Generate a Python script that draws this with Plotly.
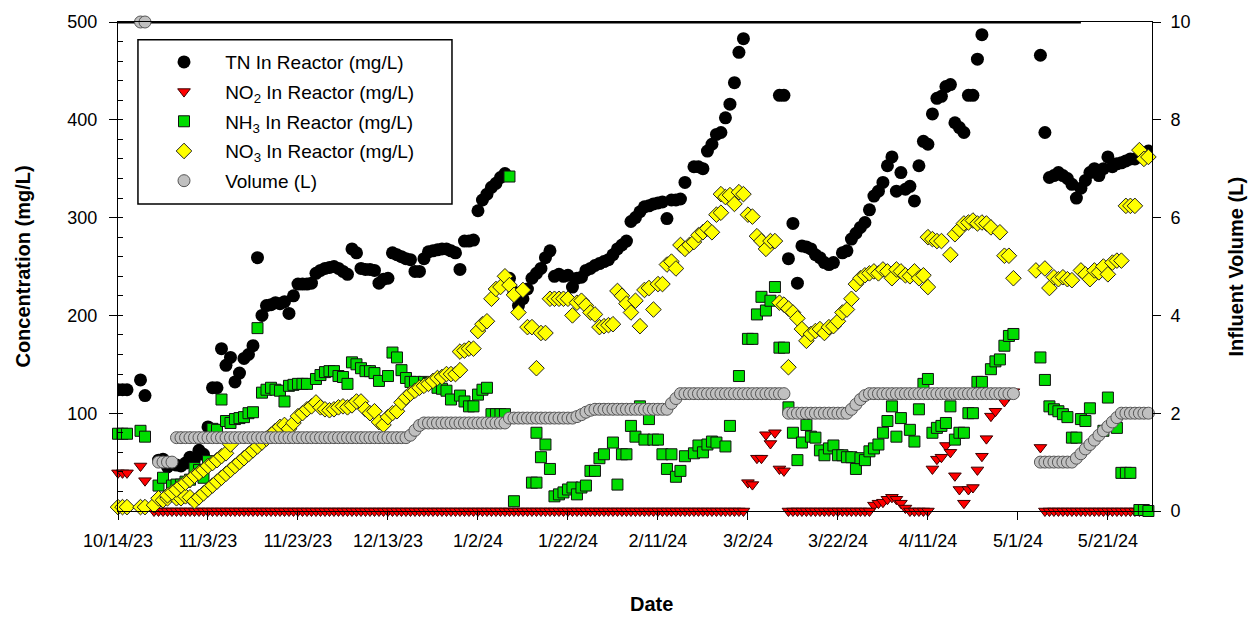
import plotly.graph_objects as go
import pandas as pd

START = pd.Timestamp("2023-10-14")
FONT = "Liberation Sans, Arial, sans-serif"

# ---------------- data (day offset from 10/14/23, value) ----------------
tn_day = [0, 1, 2, 5, 6, 9, 10, 11, 12, 13, 14, 15, 16, 17, 18, 19, 20, 21, 22, 23, 24, 25, 26, 27, 28,
          29, 30, 31, 32, 33, 34, 35, 36, 37, 38, 39, 40, 41, 42, 43, 44, 45, 46, 47, 48, 49, 50, 51,
          52, 53, 54, 55, 56, 57, 58, 59, 60, 61, 62, 63, 64, 65, 66, 67, 68, 69, 70, 71, 72, 73, 74,
          75, 76, 77, 78, 79, 80, 81, 82, 83, 84, 85, 86, 87, 88, 89, 90, 91, 92, 93, 94, 95, 96, 97,
          98, 99, 100, 101, 102, 103, 104, 105, 106, 107, 108, 109, 110, 111, 112, 113, 114, 115, 116,
          117, 118, 119, 120, 121, 122, 123, 124, 125, 126, 128, 129, 130, 131, 132, 133, 134, 135, 136,
          137, 138, 139, 147, 148, 149, 150, 151, 152, 153, 154, 155, 156, 157, 158, 159, 161, 162, 163,
          164, 165, 166, 167, 168, 169, 170, 171, 172, 173, 174, 175, 176, 177, 178, 179, 180, 181, 182,
          183, 184, 185, 186, 187, 188, 189, 190, 191, 192, 205, 206, 207, 208, 209, 210, 211, 212, 213,
          214, 215, 216, 217, 218, 219, 220, 221, 222, 223, 224, 225, 226, 227, 228, 229]
tn_val = [124, 124, 124, 134, 118, 52, 53, 45, 48, 47, 46, 49, 55, 53, 62, 58, 86, 126, 126, 166, 149, 157,
          132, 141, 156, 160, 169, 259, 200, 210, 211, 213, 212, 214, 202, 220, 232, 232, 232, 233, 243,
          246, 248, 249, 250, 248, 245, 242, 268, 264, 248, 247, 247, 246, 233, 237, 238, 264, 262, 260,
          258, 257, 245, 245, 258, 265, 266, 267, 268, 268, 266, 264, 247, 276, 276, 277, 307, 318, 324,
          331, 335, 341, 345, 238, 224, 210, 217, 227, 238, 243, 248, 259, 266, 240, 242, 240, 241, 229,
          238, 239, 246, 248, 251, 253, 255, 257, 262, 268, 272, 276, 296, 300, 306, 311, 312, 314, 315,
          316, 299, 318, 318, 319, 336, 352, 352, 350, 368, 375, 385, 387, 402, 416, 438, 469, 483, 425,
          425, 258, 294, 233, 271, 270, 268, 262, 259, 254, 252, 254, 264, 266, 278, 284, 290, 295, 308,
          322, 327, 336, 353, 362, 327, 346, 329, 332, 317, 353, 378, 375, 406, 422, 424, 434, 436, 397,
          392, 387, 425, 425, 462, 487, 466, 387, 341, 343, 346, 343, 340, 334, 320, 330, 338, 346, 350,
          343, 350, 362, 352, 355, 356, 358, 360, 360, 363, 362, 368]

no2_day = [0, 1, 2, 5, 6, 140, 141, 142, 143, 144, 145, 146, 147, 148, 168, 169, 170, 171, 172, 173, 174,
           175, 181, 182, 183, 184, 185, 186, 187, 188, 189, 190, 191, 192, 193, 194, 195, 197, 198, 199, 205]
no2_val = [39, 39, 39, 46, 31, 29, 27, 54, 54, 78, 69, 80, 43, 41, 6, 8, 9, 12, 14, 12, 8,
           3, 43, 53, 55, 67, 60, 36, 22, 8, 22, 24, 42, 56, 74, 97, 102, 112, 118, 122, 65]
# runs of days where NO2 reads 0 mg/L (first day, last day)
no2_zero_runs = [(8, 139), (149, 167), (176, 180), (206, 228)]

nh3_day = [0, 1, 2, 5, 6, 9, 10, 12, 13, 14, 15, 16, 17, 18, 19, 20, 21, 22, 23, 24, 25, 26, 27, 28, 29,
           30, 31, 32, 33, 34, 35, 36, 37, 38, 39, 40, 41, 42, 44, 45, 46, 47, 48, 49, 50, 51, 52, 53, 54,
           55, 56, 57, 58, 60, 61, 62, 63, 64, 65, 66, 68, 69, 70, 71, 72, 73, 74, 76, 77, 78, 79, 80, 81,
           82, 83, 84, 85, 86, 87, 88, 92, 93, 93, 94, 95, 96, 97, 98, 99, 100, 101, 102, 103, 104, 105,
           106, 107, 108, 110, 111, 112, 113, 114, 115, 116, 117, 118, 119, 120, 121, 122, 123, 124, 125,
           126, 128, 129, 130, 131, 132, 133, 135, 136, 138, 140, 141, 142, 143, 144, 145, 146, 147, 148,
           149, 150, 151, 152, 153, 154, 155, 156, 157, 158, 159, 160, 161, 162, 163, 164, 165, 166, 167,
           168, 169, 170, 171, 172, 173, 174, 176, 177, 178, 179, 180, 181, 182, 183, 184, 185, 186, 187,
           188, 189, 190, 191, 192, 194, 195, 196, 197, 198, 199, 205, 206, 207, 208, 209, 210, 211, 212,
           213, 214, 215, 216, 219, 220, 222, 223, 224, 225, 227, 228, 229]
nh3_val = [79, 79, 79, 82, 76, 26, 34, 26, 27, 27, 30, 32, 44, 42, 34, 51, 84, 83, 114, 92, 90, 94, 95, 96,
           100, 101, 187, 121, 124, 126, 124, 123, 112, 128, 129, 130, 130, 130, 135, 139, 142, 143, 143,
           138, 137, 130, 152, 150, 146, 143, 143, 141, 133, 138, 162, 157, 144, 136, 132, 132, 132, 131,
           131, 126, 125, 123, 114, 118, 112, 107, 107, 119, 124, 126, 99, 99, 99, 99, 342, 10, 29, 29,
           80, 55, 68, 43, 15, 17, 19, 22, 24, 17, 24, 26, 41, 41, 54, 58, 70, 27, 58, 58, 87, 76, 107,
           73, 94, 73, 73, 58, 43, 58, 35, 41, 56, 59, 67, 60, 68, 71, 70, 66, 87, 138, 176, 176, 201,
           219, 205, 215, 229, 167, 167, 106, 80, 52, 70, 88, 76, 75, 62, 57, 64, 67, 57, 57, 55, 55, 43,
           54, 52, 61, 64, 68, 80, 92, 107, 76, 95, 83, 71, 104, 130, 135, 80, 85, 87, 90, 107, 73, 80,
           80, 100, 100, 132, 132, 145, 153, 155, 169, 179, 181, 157, 134, 107, 104, 102, 99, 96, 75, 75,
           94, 92, 105, 82, 116, 85, 39, 39, 39, 1, 1, 0]

no3_day = [0, 1, 2, 5, 6, 8, 9, 10, 11, 12, 13, 14, 15, 16,
           11, 12, 13, 14, 15, 16, 17, 18, 19, 20, 21, 22, 23, 24, 25,
           17, 18, 19, 20, 21, 22, 23, 24, 25, 26, 27, 28, 29, 30, 31, 32, 33, 34, 35, 36, 37, 38, 39,
           40, 41, 42, 43, 44, 45, 46, 47, 48, 49, 50, 51, 52, 53, 54, 55, 56, 57, 58, 59, 60, 61, 62,
           63, 64, 65, 66, 67, 68, 69, 70, 71, 72, 73, 74, 75, 76, 76, 77, 78, 79, 80, 81, 82, 83, 84,
           85, 86, 87, 88, 89, 90, 91, 92, 93, 94, 95, 96, 97, 98, 99, 100, 101, 102, 103, 104, 105, 106,
           107, 108, 109, 110, 111, 112, 113, 114, 115, 116, 117, 118, 119, 120, 121, 122, 123, 124, 125,
           126, 127, 128, 129, 130, 131, 132, 133, 134, 134, 135, 136, 137, 138, 139, 140, 141, 142, 143,
           144, 145, 146, 147, 148, 149, 149, 150, 151, 152, 153, 154, 155, 156, 157, 158, 159, 160, 161,
           162, 163, 164, 165, 166, 167, 168, 169, 170, 171, 172, 173, 174, 175, 176, 177, 178, 179, 180,
           180, 181, 182, 183, 185, 186, 187, 188, 189, 190, 191, 192, 193, 194, 196, 197, 198, 199, 204,
           206, 207, 208, 209, 210, 211, 212, 214, 215, 216, 217, 218, 219, 220, 221, 222, 223, 224, 225,
           226, 227, 228, 229]
no3_val = [4, 4, 4, 4, 4, 6, 13, 11, 13, 17, 13, 13, 15, 14,
           16, 19, 22, 26, 29, 32, 36, 39, 42, 46, 49, 52, 56, 59, 68,
           10, 14, 18, 22, 26, 30, 34, 38, 42, 46, 50, 54, 58, 62, 66, 70, 74, 78, 82, 86, 88, 84, 90,
           97, 100, 104, 107, 111, 106, 104, 103, 104, 106, 107, 106, 108, 112, 112, 104, 100, 102, 91,
           88, 96, 100, 102, 111, 116, 120, 123, 126, 128, 130, 133, 136, 137, 140, 140, 140, 144, 163,
           164, 166, 166, 184, 191, 194, 217, 227, 229, 240, 231, 221, 203, 226, 188, 188, 146, 182, 182,
           217, 217, 217, 217, 217, 200, 213, 215, 210, 203, 201, 188, 189, 190, 191, 225, 220, 212, 203,
           215, 189, 226, 228, 206, 232, 232, 252, 255, 248, 272, 268, 272, 275, 282, 285, 289, 285, 303,
           305, 324, 321, 323, 314, 326, 324, 303, 301, 281, 276, 268, 276, 276, 213, 211, 207, 147, 203,
           197, 186, 174, 181, 184, 186, 182, 188, 189, 194, 203, 206, 217, 232, 238, 241, 243, 245, 243,
           247, 245, 238, 247, 245, 241, 240, 245, 238, 241, 229, 280, 278, 276, 276, 262, 283, 288, 294,
           295, 297, 294, 295, 294, 290, 285, 261, 261, 238, 246, 248, 228, 239, 237, 239, 237, 236, 246,
           242, 237, 246, 244, 250, 242, 254, 256, 256, 312, 312, 312, 369, 360, 362]

# influent volume (L): isolated readings and ramps
vol_day = [5, 6, 65, 66, 67, 102, 103, 104, 105, 123, 124, 163, 164, 165, 166,
           213, 214, 215, 216, 217, 218, 219, 220, 221, 222]
vol_val = [10, 10, 1.55, 1.65, 1.75, 1.93, 1.97, 2.02, 2.06, 2.2, 2.3, 2.08, 2.18, 2.28, 2.36,
           1.08, 1.17, 1.27, 1.36, 1.45, 1.55, 1.64, 1.73, 1.82, 1.91]
# runs of days with a steady reading (first day, last day, litres)
vol_runs = [(9, 12, 1.0), (13, 64, 1.5), (68, 86, 1.8), (87, 101, 1.9), (106, 122, 2.08),
            (125, 148, 2.4), (149, 162, 2.0), (167, 199, 2.4), (205, 212, 1.0), (223, 229, 2.0)]

# heavy black line drawn along the 500 mg/L frame
top_line_day = [0, 214]
top_line_val = [500, 500]

x_tick_step_days = 20
x_end_days = 229.8

# ---------------- assemble ----------------
def dates(days):
    return [START + pd.Timedelta(days=float(d)) for d in days]

no2_d = list(no2_day)
no2_v = list(no2_val)
for a, b in no2_zero_runs:
    for d in range(a, b + 1):
        no2_d.append(d)
        no2_v.append(0)

vol_d = list(vol_day)
vol_v = list(vol_val)
for a, b, v in vol_runs:
    for d in range(a, b + 1):
        vol_d.append(d)
        vol_v.append(v)
order = sorted(range(len(vol_d)), key=lambda i: vol_d[i])
vol_d = [vol_d[i] for i in order]
vol_v = [vol_v[i] for i in order]

NB = "\u00a0" * 4

fig = go.Figure()
fig.add_trace(go.Scatter(x=dates(top_line_day), y=top_line_val, mode="lines",
                         line=dict(color="black", width=3), showlegend=False,
                         cliponaxis=False, hoverinfo="skip"))
fig.add_trace(go.Scatter(x=dates(tn_day), y=tn_val, mode="markers", name=NB + "TN In Reactor (mg/L)",
                         legendgroup="a",
                         marker=dict(symbol="circle", size=13, color="black", line=dict(width=0))))
fig.add_trace(go.Scatter(x=dates(no2_d), y=no2_v, mode="markers",
                         name=NB + "NO<sub>2</sub> In Reactor (mg/L)", legendgroup="b", cliponaxis=False,
                         marker=dict(symbol="triangle-down", size=11, color="#ff0000",
                                     line=dict(color="#3a0000", width=1))))
fig.add_trace(go.Scatter(x=dates(nh3_day), y=nh3_val, mode="markers",
                         name=NB + "NH<sub>3</sub> In Reactor (mg/L)", legendgroup="c", cliponaxis=False,
                         marker=dict(symbol="square", size=11, color="#00dd00",
                                     line=dict(color="#111111", width=1))))
fig.add_trace(go.Scatter(x=dates(no3_day), y=no3_val, mode="markers",
                         name=NB + "NO<sub>3</sub> In Reactor (mg/L)", legendgroup="d", cliponaxis=False,
                         marker=dict(symbol="diamond", size=12, color="#ffff00",
                                     line=dict(color="#222222", width=1))))
fig.add_trace(go.Scatter(x=dates(vol_d), y=vol_v, mode="markers", name=NB + "Volume (L)",
                         legendgroup="e", yaxis="y2", cliponaxis=False,
                         marker=dict(symbol="circle", size=12, color="#c0c0c0",
                                     line=dict(color="#555555", width=1))))

axis_common = dict(showline=True, linecolor="black", linewidth=1, showgrid=False, zeroline=False,
                   ticks="outside", ticklen=8, tickwidth=1, tickcolor="black",
                   tickfont=dict(family=FONT, size=18, color="black"))

fig.update_layout(
    width=1251, height=619, autosize=False,
    margin=dict(l=118, r=99, t=16, b=108),
    paper_bgcolor="white", plot_bgcolor="white",
    font=dict(family=FONT, color="black"),
    xaxis=dict(type="date", range=[START, START + pd.Timedelta(days=x_end_days)],
               tick0=START, dtick=x_tick_step_days * 86400000, tickformat="%-m/%-d/%y",
               mirror=True, ticklabelstandoff=5, **axis_common),
    yaxis=dict(range=[0, 500], tickvals=[100, 200, 300, 400, 500], ticklabelstandoff=8,
               minor=dict(ticks="inside", ticklen=5, tick0=0, dtick=20, tickcolor="black", showgrid=False),
               **axis_common),
    yaxis2=dict(range=[0, 10], tickvals=[0, 2, 4, 6, 8, 10], overlaying="y", side="right",
                ticklabelstandoff=6, **axis_common),
    legend=dict(x=0.0445, y=0.957, xanchor="left", yanchor="top", bgcolor="rgba(0,0,0,0)",
                borderwidth=0, font=dict(family=FONT, size=19, color="black"), tracegroupgap=2,
                itemsizing="trace"),
    shapes=[dict(type="rect", xref="paper", yref="paper", x0=0.0193, x1=0.323, y0=0.628, y1=0.9636,
                 line=dict(color="black", width=1.5), fillcolor="rgba(0,0,0,0)", layer="above")],
    annotations=[
        dict(text="<b>Concentration (mg/L)</b>", xref="paper", yref="paper", x=-0.0928, y=0.5,
             textangle=-90, showarrow=False, font=dict(family=FONT, size=20, color="black"),
             xanchor="center", yanchor="middle"),
        dict(text="<b>Influent Volume (L)</b>", xref="paper", yref="paper", x=1.0803, y=0.5,
             textangle=-90, showarrow=False, font=dict(family=FONT, size=20, color="black"),
             xanchor="center", yanchor="middle"),
        dict(text="<b>Date</b>", xref="paper", yref="paper", x=0.5155, y=-0.19,
             showarrow=False, font=dict(family=FONT, size=20, color="black"),
             xanchor="center", yanchor="middle"),
    ],
)

fig.write_html("out.html")
